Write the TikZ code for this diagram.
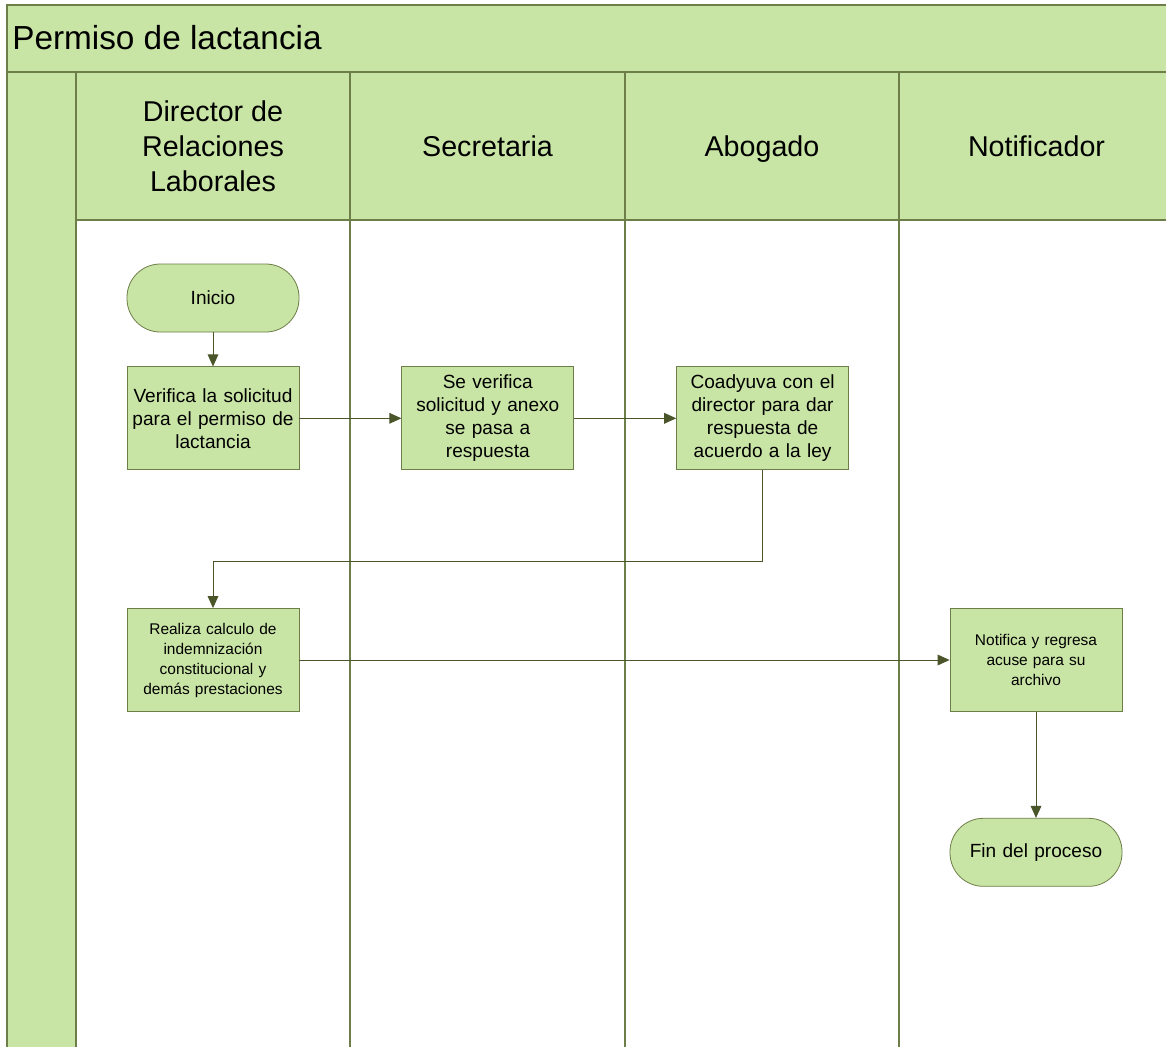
\documentclass[tikz,border=0pt]{standalone}
\usepackage{fontspec}
\setmainfont{Liberation Sans}
\usetikzlibrary{positioning}
\usetikzlibrary{arrows.meta}
\definecolor{lanegreen}{RGB}{201,229,165}
\definecolor{laneline}{RGB}{110,126,72}
\definecolor{flowline}{RGB}{74,86,42}
\tikzset{
lane/.style={draw=laneline, fill=lanegreen, line width=0.8pt},
lane-body/.style={draw=laneline, fill=white, line width=0.8pt},
pool-title/.style={font=\fontsize{25}{30}\selectfont, inner sep=0pt},
lane-title/.style={align=center, font=\fontsize{21.5}{26.25}\selectfont, inner sep=0pt, execute at end node={\vphantom{g}}},
task/.style={draw=laneline, fill=lanegreen, line width=0.6pt, align=center, minimum width=129pt, minimum height=77.25pt, text width=124pt, inner sep=0pt, font=\fontsize{14.3}{17.25}\selectfont},
task-small/.style={task, font=\fontsize{11.6}{15}\selectfont},
terminal/.style={task, minimum height=51pt, rounded corners=25pt},
flow/.style={draw=flowline, line width=0.75pt, -{Triangle[length=9pt, width=8pt]}}
}
\begin{document}
\begin{tikzpicture}[x=0.75pt, y=-0.75pt]
  \useasboundingbox (0,0) rectangle (1166,1046);
  \clip (0,0) rectangle (1166,1046);
  % pool and lanes
  \draw[lane] (7,5) rectangle (1180,72);
  \node[pool-title, anchor=west](pool) at (12,38) {Permiso de lactancia};
  \draw[lane] (7,72) rectangle (76,1060);
  \foreach \x / \xx / \n / \t in {76/350/director/{Director de\\Relaciones\\Laborales},350/625/secretaria/Secretaria,625/899/abogado/Abogado,899/1174/notificador/Notificador}
  {
    \draw[lane] (\x,72) rectangle (\xx,220);
    \draw[lane-body] (\x,220) rectangle (\xx,1060);
    \node[lane-title](\n) at ({(\x+\xx)/2},149) {\t};
  }
  \draw[laneline, line width=1.4pt] (7,72) -- (1174,72);
  %
  \node[terminal](inicio) at (213,298) {Inicio};
  \node[task, below=25.5pt of inicio](verifica) {Verifica la solicitud\\para el permiso de\\lactancia};
  \node[task, right=76.5pt of verifica](revision) {Se verifica\\solicitud y anexo\\se pasa a\\respuesta};
  \node[task, right=76.5pt of revision](coadyuva) {Coadyuva con el\\director para dar\\respuesta de\\acuerdo a la ley};
  \node[task-small](calculo) at (213,660) {Realiza calculo de\\indemnización\\constitucional y\\demás prestaciones};
  \node[task-small](notifica) at (1036,660) {Notifica y regresa\\acuse para su\\archivo};
  \node[terminal, below=79.5pt of notifica](fin) {Fin del proceso};
  %
  \foreach \u / \v in {inicio/verifica,verifica/revision,revision/coadyuva,calculo/notifica,notifica/fin}
  \draw[flow] (\u) -- (\v);
  \draw[flow] (coadyuva.south) -- ++(0,91) -| (calculo.north);
\end{tikzpicture}
\end{document}
